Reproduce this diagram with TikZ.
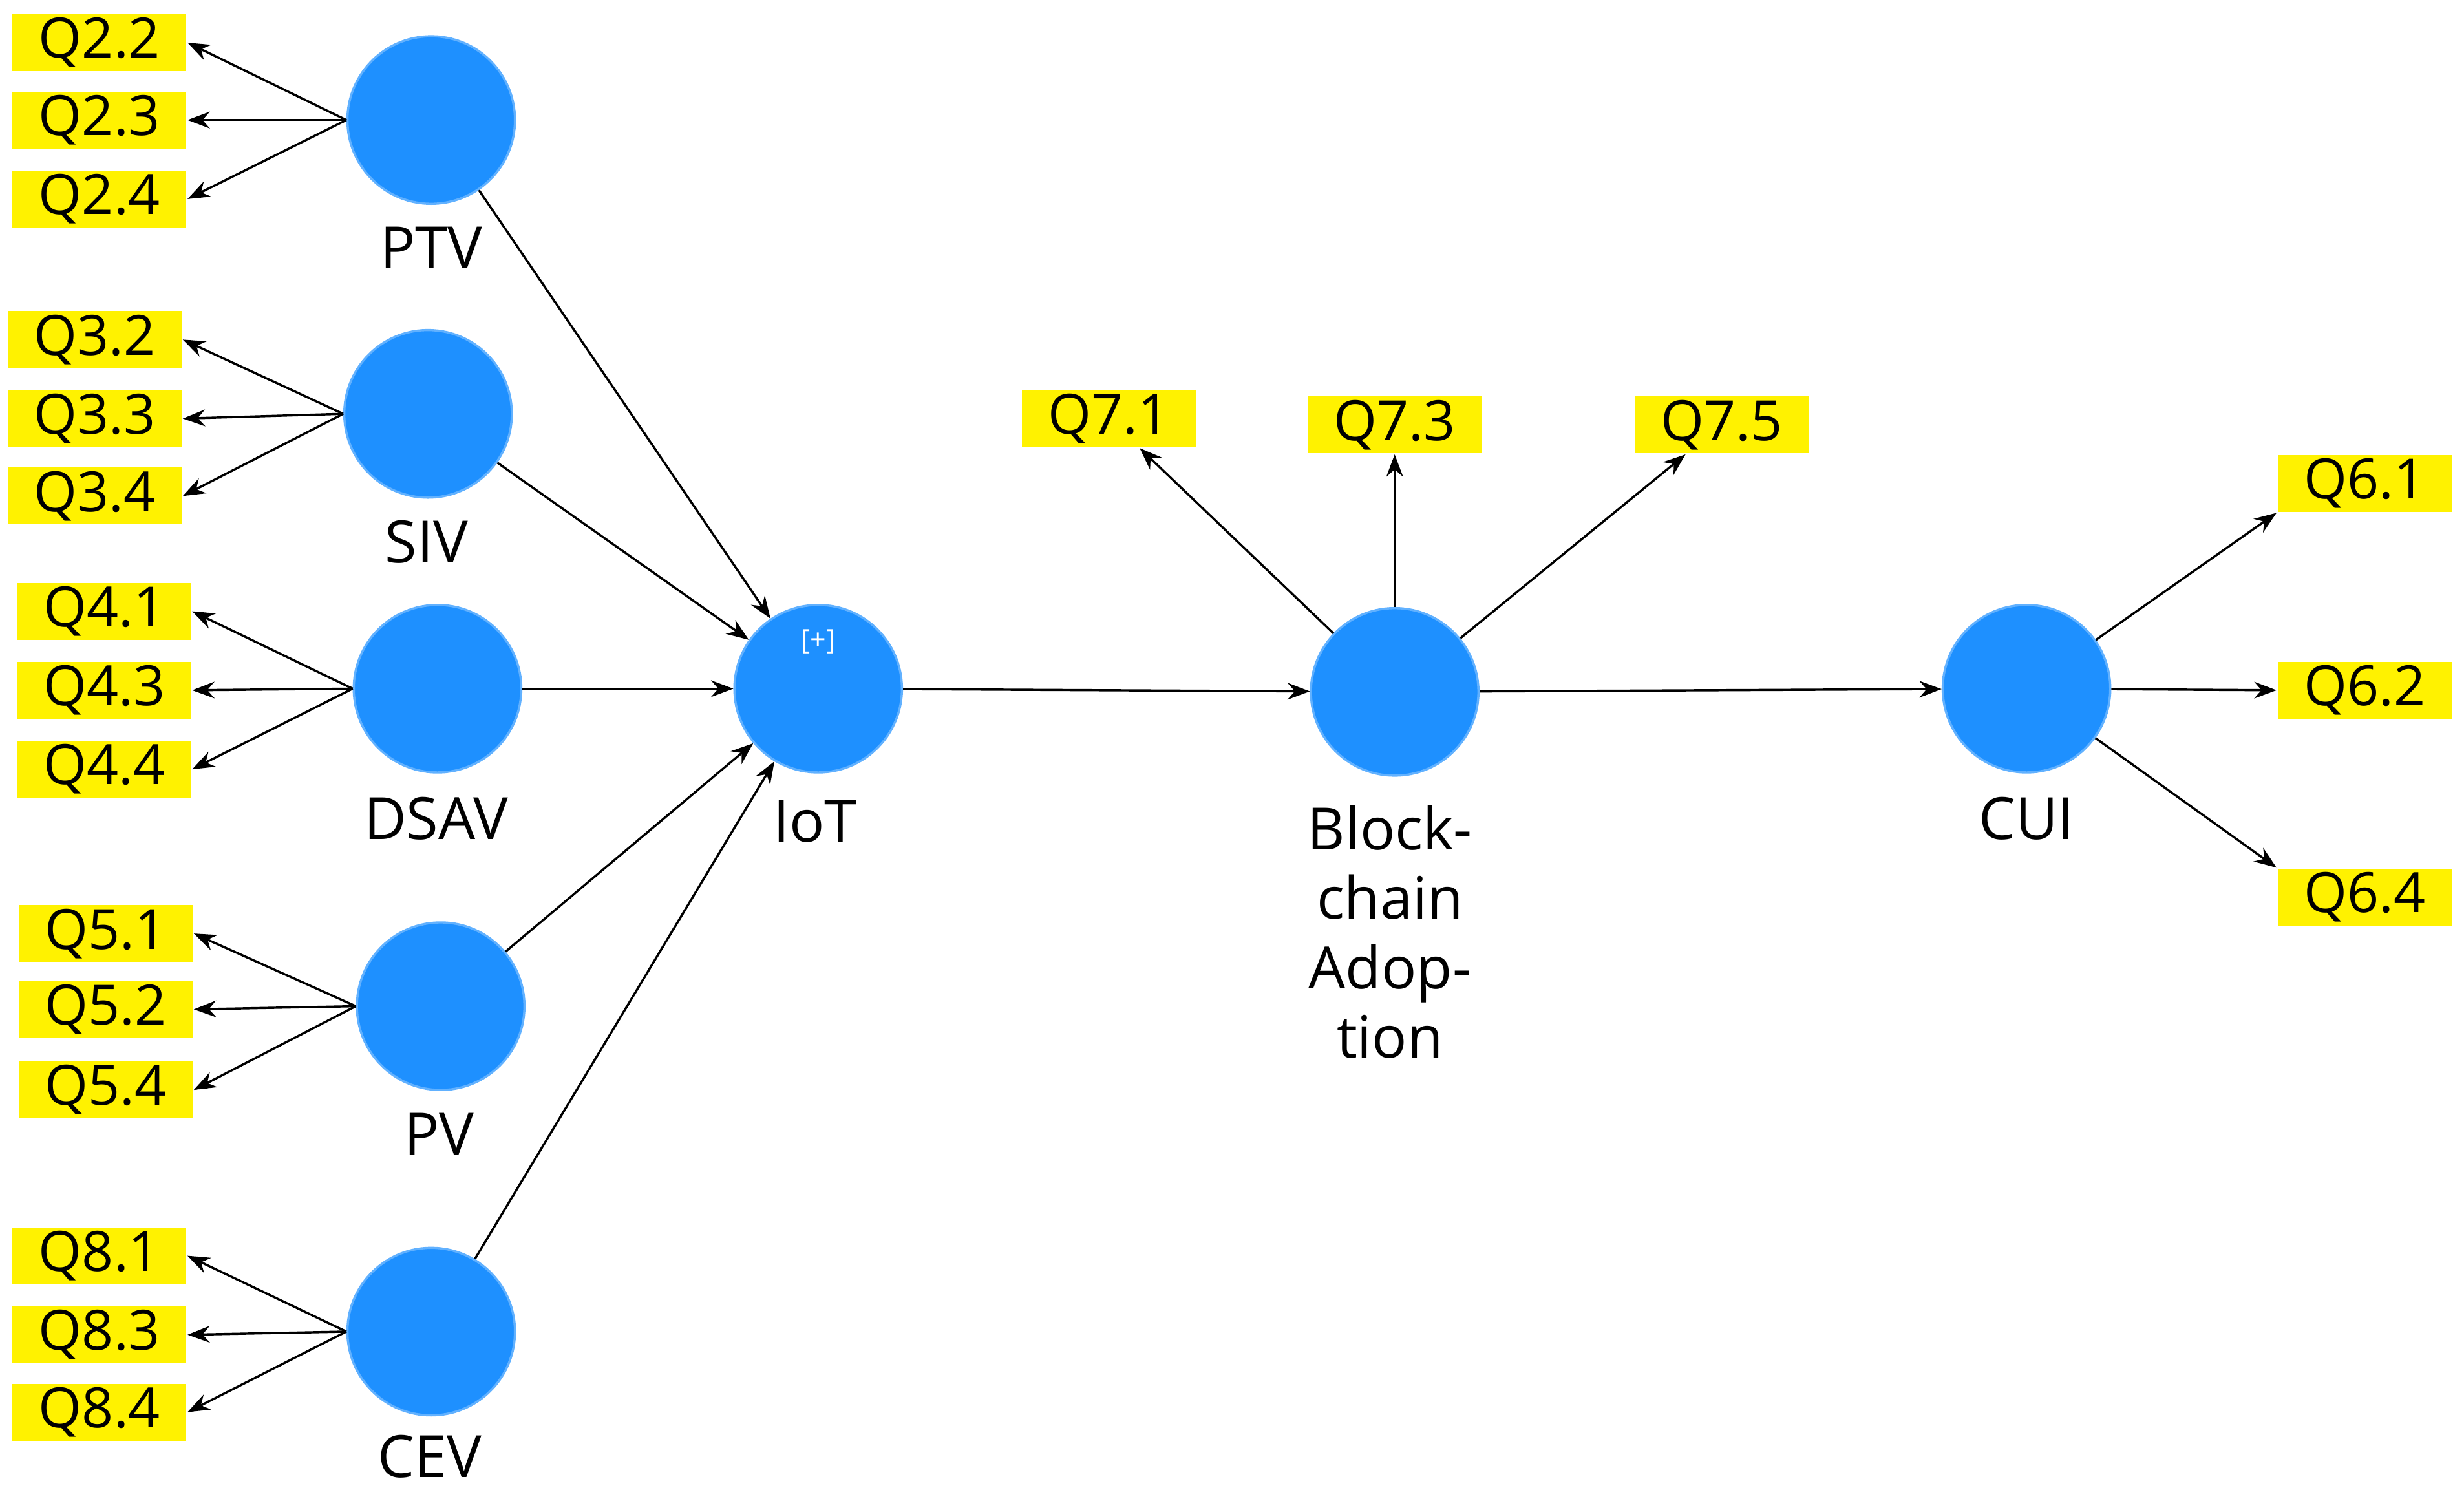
\documentclass[tikz,border=0pt]{standalone}
\usepackage{fontspec}
\setmainfont{Open Sans}
\usetikzlibrary{arrows.meta}
\definecolor{lvblue}{RGB}{30,144,255}
\begin{document}
\begin{tikzpicture}
[x=0.01cm,y=-0.01cm,
latent/.style={circle,fill=lvblue,draw=lvblue!70,minimum size=1.06cm,inner sep=0pt},
item/.style={fill=yellow,minimum width=1.1cm,minimum height=0.36cm,inner sep=0pt,font=\fontsize{10}{11}\selectfont},
lvname/.style={font=\fontsize{10.5}{12.5}\selectfont,align=center},
ind/.style={-{Stealth[length=4pt,width=3pt]},thin},
inner/.style={-{Stealth[length=4pt,width=3pt]},thin}]
\useasboundingbox (0,0) rectangle (1560,943);
% latent variables
\node [latent] (PTV) at (273,76) {};
\node [latent] (SIV) at (271,262) {};
\node [latent] (DSAV) at (277,436) {};
\node [latent] (PV) at (279,637) {};
\node [latent] (CEV) at (273,843) {};
\node [latent] (IoT) at (518,436) {};
\node [latent] (BA) at (883,438) {};
\node [latent] (CUI) at (1283,436) {};
\node [white,font=\fontsize{5}{6}\selectfont] (plus) at (518,406) {[+]};
% latent names
\node [lvname] (PTVl) at (273,157) {PTV};
\node [lvname] (SIVl) at (270,343) {SIV};
\node [lvname] (DSAVl) at (276,518) {DSAV};
\node [lvname] (PVl) at (278,718) {PV};
\node [lvname] (CEVl) at (272,922) {CEV};
\node [lvname] (IoTl) at (516,520) {IoT};
\node [lvname] (BAl) at (880,590) {Block-\\chain\\Adop-\\tion};
\node [lvname] (CUIl) at (1283,518) {CUI};
% indicators
\node [item] (q22) at (63,27) {Q2.2};
\node [item] (q23) at (63,76) {Q2.3};
\node [item] (q24) at (63,126) {Q2.4};
\node [item] (q32) at (60,215) {Q3.2};
\node [item] (q33) at (60,265) {Q3.3};
\node [item] (q34) at (60,314) {Q3.4};
\node [item] (q41) at (66,387) {Q4.1};
\node [item] (q43) at (66,437) {Q4.3};
\node [item] (q44) at (66,487) {Q4.4};
\node [item] (q51) at (67,591) {Q5.1};
\node [item] (q52) at (67,639) {Q5.2};
\node [item] (q54) at (67,690) {Q5.4};
\node [item] (q81) at (63,795) {Q8.1};
\node [item] (q83) at (63,845) {Q8.3};
\node [item] (q84) at (63,894) {Q8.4};
\node [item] (q71) at (702,265) {Q7.1};
\node [item] (q73) at (883,269) {Q7.3};
\node [item] (q75) at (1090,269) {Q7.5};
\node [item] (q61) at (1497,306) {Q6.1};
\node [item] (q62) at (1497,437) {Q6.2};
\node [item] (q64) at (1497,568) {Q6.4};
% outer model
\foreach \lv/\a/\b/\c in {PTV/q22/q23/q24,SIV/q32/q33/q34,DSAV/q41/q43/q44,PV/q51/q52/q54,CEV/q81/q83/q84}
  \foreach \q in {\a,\b,\c}
    \draw [ind] (\lv.west) -- (\q.east);
\foreach \q in {q71,q73,q75}
  \draw [ind] (BA) -- (\q);
\draw [ind] (CUI) -- (q61.south west);
\draw [ind] (CUI) -- (q62.west);
\draw [ind] (CUI) -- (q64.north west);
% inner model
\foreach \lv in {PTV,SIV,DSAV,PV,CEV}
  \draw [inner] (\lv) -- (IoT);
\draw [inner] (IoT) -- (BA);
\draw [inner] (BA) -- (CUI);
\end{tikzpicture}
\end{document}
